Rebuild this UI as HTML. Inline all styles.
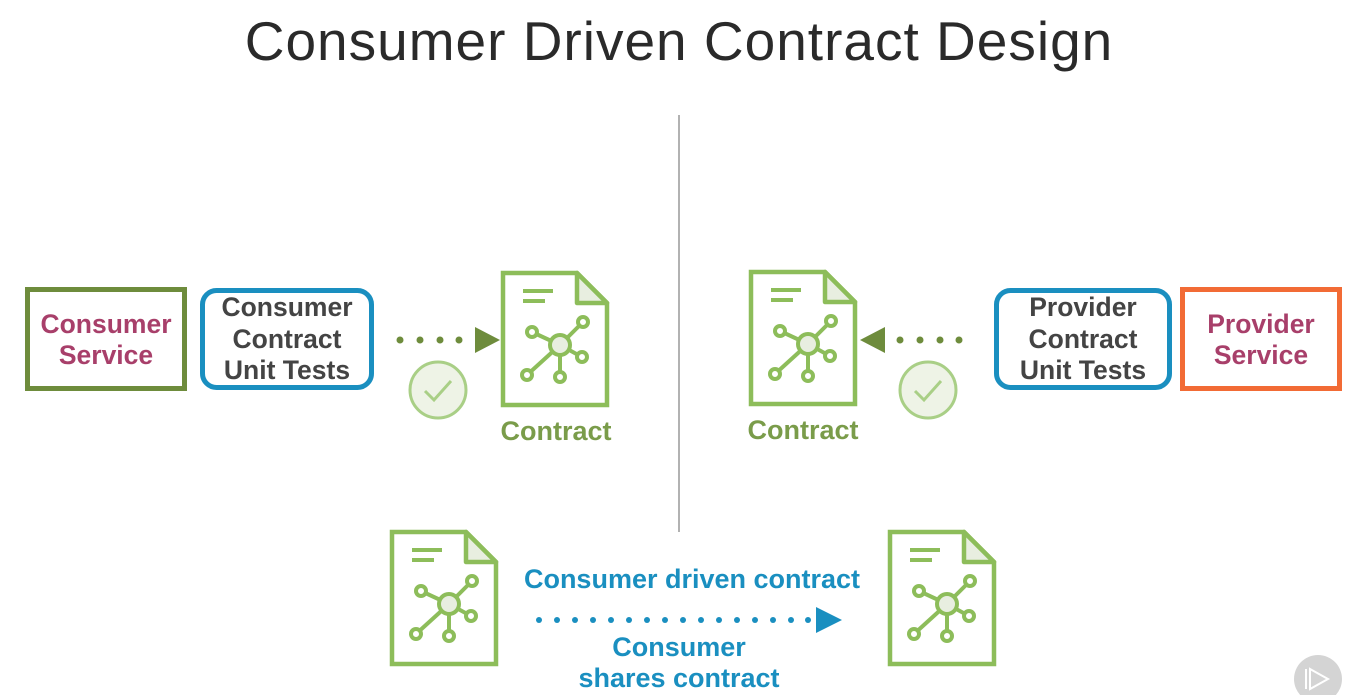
<!DOCTYPE html>
<html><head><meta charset="utf-8"><style>
html,body{margin:0;padding:0;background:#fff;}
svg{display:block;font-family:"Liberation Sans",sans-serif;}
</style></head><body>
<svg width="1348" height="695" viewBox="0 0 1348 695" xmlns="http://www.w3.org/2000/svg">
<defs>
<g id="doc">
<path d="M0,0 H74 L104,30 V132 H0 Z" fill="#fff" stroke="#8dbd5a" stroke-width="4.5" stroke-linejoin="miter"/>
<path d="M74,0 V30 H104 Z" fill="#e8eee0" stroke="#8dbd5a" stroke-width="4.5" stroke-linejoin="round"/>
<line x1="20" y1="18" x2="50" y2="18" stroke="#8dbd5a" stroke-width="4"/>
<line x1="20" y1="28" x2="42" y2="28" stroke="#8dbd5a" stroke-width="4"/>
<g stroke="#8dbd5a" stroke-width="4" fill="#fff">
<line x1="57" y1="72" x2="29" y2="59"/><line x1="57" y1="72" x2="80" y2="49"/>
<line x1="57" y1="72" x2="79" y2="84"/><line x1="57" y1="72" x2="57" y2="104"/>
<line x1="57" y1="72" x2="24" y2="102"/>
<circle cx="29" cy="59" r="5"/><circle cx="80" cy="49" r="5"/><circle cx="79" cy="84" r="5"/>
<circle cx="57" cy="104" r="5"/><circle cx="24" cy="102" r="5"/>
<circle cx="57" cy="72" r="10" fill="#e8eee0"/>
</g>
</g>
<g id="chk">
<circle cx="0" cy="0" r="28" fill="#eef3e6" stroke="#a9cf86" stroke-width="3"/>
<path d="M-13,1 L-4,10 L13,-9" fill="none" stroke="#a9cf86" stroke-width="3"/>
</g>
</defs>
<text x="679" y="60" text-anchor="middle" font-size="55" fill="#2a2a2a" letter-spacing="1">Consumer Driven Contract Design</text>
<line x1="679" y1="115" x2="679" y2="532" stroke="#999" stroke-width="1.5"/>

<rect x="27.5" y="289.5" width="157" height="99" fill="#fff" stroke="#6e8c3c" stroke-width="5"/>
<text font-size="26.5" fill="#a83f6a" text-anchor="middle" font-weight="bold"><tspan x="106" y="333">Consumer</tspan><tspan x="106" y="364">Service</tspan></text>
<rect x="202.5" y="290.5" width="169" height="97" rx="14" fill="#fff" stroke="#1a8fc0" stroke-width="5"/>
<text font-size="26.5" fill="#444" text-anchor="middle" font-weight="bold"><tspan x="287" y="316">Consumer</tspan><tspan x="287" y="348">Contract</tspan><tspan x="287" y="379">Unit Tests</tspan></text>

<g fill="#6e8c3c"><circle cx="400" cy="340" r="3.5"/><circle cx="420" cy="340" r="3.5"/><circle cx="440" cy="340" r="3.5"/><circle cx="459" cy="340" r="3.5"/>
<path d="M475,327 L500,340 L475,353 Z"/></g>
<use href="#chk" x="438" y="390"/>
<use href="#doc" x="503" y="273"/>
<text x="556" y="440" font-size="27" font-weight="bold" fill="#7a9c4a" text-anchor="middle">Contract</text>

<use href="#doc" x="751" y="272"/>
<text x="803" y="439" font-size="27" font-weight="bold" fill="#7a9c4a" text-anchor="middle">Contract</text>
<g fill="#6e8c3c"><path d="M885,327 L860,340 L885,353 Z"/>
<circle cx="900" cy="340" r="3.5"/><circle cx="920" cy="340" r="3.5"/><circle cx="940" cy="340" r="3.5"/><circle cx="959" cy="340" r="3.5"/></g>
<use href="#chk" x="928" y="390"/>
<rect x="996.5" y="290.5" width="173" height="97" rx="14" fill="#fff" stroke="#1a8fc0" stroke-width="5"/>
<text font-size="26.5" fill="#444" text-anchor="middle" font-weight="bold"><tspan x="1083" y="316">Provider</tspan><tspan x="1083" y="348">Contract</tspan><tspan x="1083" y="379">Unit Tests</tspan></text>
<rect x="1182.5" y="289.5" width="157" height="99" fill="#fff" stroke="#f26b35" stroke-width="5"/>
<text font-size="26.5" fill="#a83f6a" text-anchor="middle" font-weight="bold"><tspan x="1261" y="333">Provider</tspan><tspan x="1261" y="364">Service</tspan></text>

<use href="#doc" x="392" y="532"/>
<use href="#doc" x="890" y="532"/>
<text x="692" y="588" font-size="27" font-weight="bold" fill="#1a8fc0" text-anchor="middle">Consumer driven contract</text>
<g fill="#1a8fc0">
<circle cx="539" cy="620" r="3"/><circle cx="557" cy="620" r="3"/><circle cx="575" cy="620" r="3"/><circle cx="593" cy="620" r="3"/><circle cx="611" cy="620" r="3"/><circle cx="629" cy="620" r="3"/><circle cx="647" cy="620" r="3"/><circle cx="665" cy="620" r="3"/><circle cx="683" cy="620" r="3"/><circle cx="701" cy="620" r="3"/><circle cx="719" cy="620" r="3"/><circle cx="737" cy="620" r="3"/><circle cx="755" cy="620" r="3"/><circle cx="773" cy="620" r="3"/><circle cx="791" cy="620" r="3"/><circle cx="808" cy="620" r="3"/>
<path d="M816,607 L842,620 L816,633 Z"/></g>
<text font-size="27" font-weight="bold" fill="#1a8fc0" text-anchor="middle"><tspan x="679" y="656">Consumer</tspan><tspan x="679" y="687">shares contract</tspan></text>

<circle cx="1318" cy="679" r="24" fill="#d4d4d4"/>
<path d="M1310,669 L1328,679 L1310,689 Z M1306,669 V689" fill="none" stroke="#fff" stroke-width="2"/>
</svg>
</body></html>
